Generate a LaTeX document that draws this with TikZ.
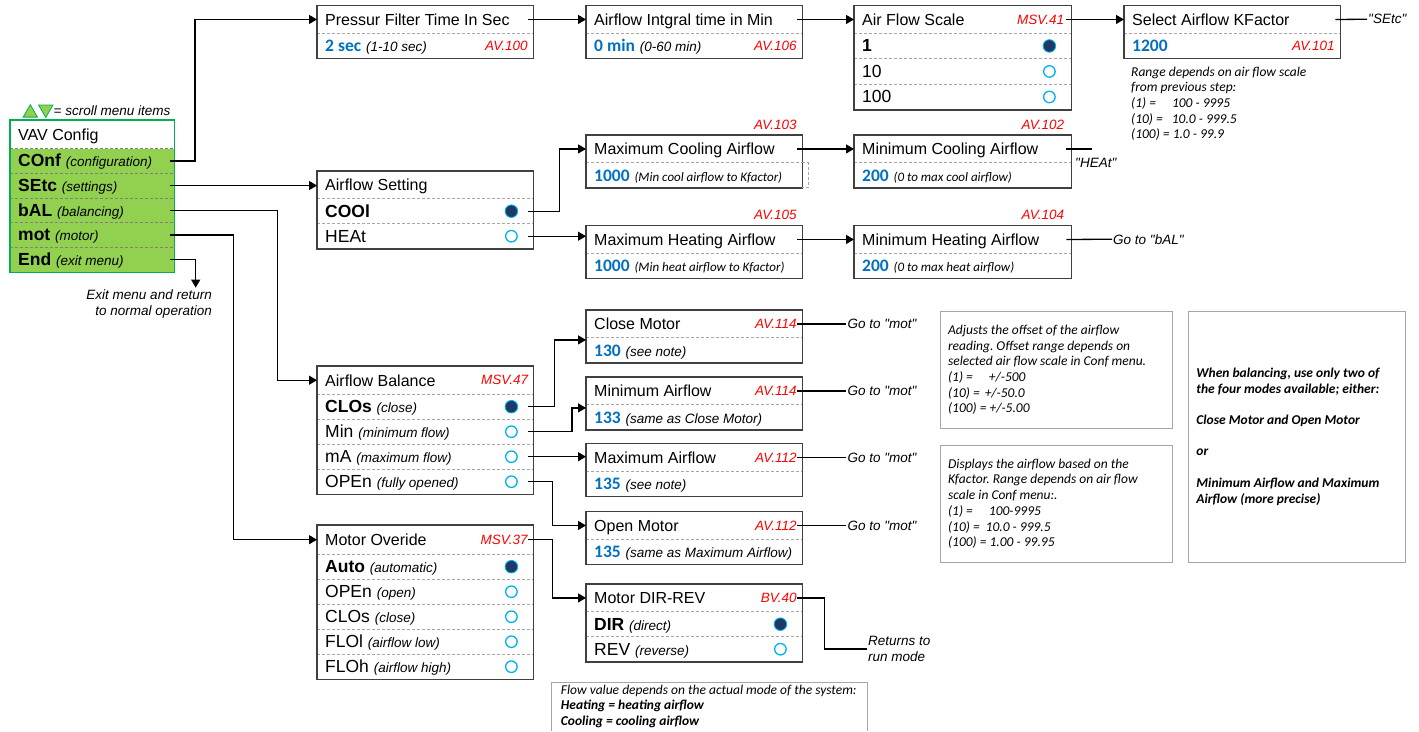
\documentclass[tikz,border=0pt]{standalone}
\usepackage{fontspec}
\setmainfont{Liberation Sans}
\newfontfamily\calfont{Carlito}
\usetikzlibrary{arrows.meta,shapes.geometric}
\frenchspacing

\definecolor{boxgray}{HTML}{404040}
\definecolor{divgray}{HTML}{A6A6A6}
\definecolor{vavgreen}{HTML}{92D050}
\definecolor{vavedge}{HTML}{00B050}
\definecolor{valblue}{HTML}{0070C0}
\definecolor{avred}{HTML}{FF0000}
\definecolor{radioring}{HTML}{00B0F0}
\definecolor{radiofill}{HTML}{1F3864}
\definecolor{notegray}{HTML}{A6A6A6}

\newcommand{\paren}[1]{{\fontsize{13.5}{16}\selectfont\itshape #1}}
\newcommand{\calparen}[1]{{\calfont\itshape\fontsize{13}{16}\selectfont #1}}
\newcommand{\val}[1]{{\calfont\bfseries\fontsize{17.5}{20}\selectfont\color{valblue}#1}}
\newcommand{\qq}[1]{\textquotedbl#1\textquotedbl}

\tikzset{
  cell/.style={anchor=north west, text width=#1, inner xsep=8pt, inner ysep=0pt,
    align=flush left, text height=14.5pt, text depth=2.5pt},
  cell/.default=200pt,
  hd/.style={cell=#1, minimum height=27.5pt, font=\fontsize{16}{19}\selectfont},
  hd/.default=200pt,
  opt/.style={cell=#1, minimum height=25pt, font=\fontsize{17.5}{20}\selectfont},
  opt/.default=200pt,
  boxline/.style={draw=boxgray, line width=1.3pt},
  divline/.style={draw=divgray, line width=0.9pt, dash pattern=on 3pt off 2pt},
  vavdiv/.style={draw=gray, line width=0.9pt, dash pattern=on 3pt off 2pt},
  radon/.style={circle, draw=radioring, fill=radiofill, line width=0.9pt, minimum size=12.5pt, inner sep=0pt},
  radoff/.style={circle, draw=radioring, fill=white, line width=1.3pt, minimum size=11.5pt, inner sep=0pt},
  avlab/.style={font=\fontsize{13.5}{16}\selectfont\itshape, text=avred, inner sep=0pt, anchor=east},
  golab/.style={font=\fontsize{13.5}{16.3}\selectfont\itshape, inner sep=1pt, anchor=west},
  link/.style={draw=black, line width=1.3pt, shorten <=-5pt, -{Triangle[length=8pt,width=9pt]}},
  golink/.style={draw=black, line width=1.3pt, shorten <=-5pt},
  notebox/.style={draw=notegray, line width=0.8pt, anchor=north west, inner xsep=8pt,
    align=flush left, font=\calfont\itshape\fontsize{13.5}{15.7}\selectfont},
  notetext/.style={anchor=north west, inner sep=0pt, align=flush left,
    font=\calfont\itshape\fontsize{13.5}{15.7}\selectfont},
  tri/.style={regular polygon, regular polygon sides=3, minimum size=16.5pt, inner sep=0pt,
    fill=vavgreen, draw=vavedge, line width=0.8pt}
}

\begin{document}
\begin{tikzpicture}[x=1pt, y=-1pt]
    \path[use as bounding box, fill=white] (0,0) rectangle (1419,731);

    % VAV menu
    \node[tri] (scroll-up) at (30.3,113) {};
    \node[tri, shape border rotate=180] (scroll-down) at (45.8,109.2) {};
    \node[golab] (scroll-lab) at (52.5,110.8) {= scroll menu items};
    \node[hd=148.3pt, fill=white, minimum height=28.3pt] (vav) at (10,120) {VAV Config};
    \node[opt=148.3pt, fill=vavgreen, minimum height=24.7pt] (conf) at (10,148.3) {\textbf{COnf} \paren{(configuration)}};
    \node[opt=148.3pt, fill=vavgreen, minimum height=24.7pt] (setc) at (10,173) {\textbf{SEtc} \paren{(settings)}};
    \node[opt=148.3pt, fill=vavgreen, minimum height=24.7pt] (bal) at (10,197.7) {\textbf{bAL} \paren{(balancing)}};
    \node[opt=148.3pt, fill=vavgreen, minimum height=24.7pt] (mot) at (10,222.4) {\textbf{mot} \paren{(motor)}};
    \node[opt=148.3pt, fill=vavgreen, minimum height=24.7pt] (endm) at (10,247.1) {\textbf{End} \paren{(exit menu)}};
    \foreach \r in {vav,conf,setc,bal,mot}
        \draw[vavdiv] (\r.south west) -- (\r.south east);
    \draw[draw=vavedge, line width=1.3pt] (vav.north west) rectangle (endm.south east);
    \node[golab, anchor=east, align=flush right] (exit-lab) at (213,304) {Exit menu and return\\to normal operation};

    % Conf branch
    \node[hd] (pf-h) at (317,5.5) {Pressur Filter Time In Sec};
    \node[opt] (pf-v) at (317,33) {\val{2 sec} \paren{(1-10 sec)}};
    \node[avlab] (pf-av) at ([xshift=-5.5pt]pf-v.east) {AV.100};

    \node[hd] (ai-h) at (586,5.5) {Airflow Intgral time in Min};
    \node[opt] (ai-v) at (586,33) {\val{0 min} \paren{(0-60 min)}};
    \node[avlab] (ai-av) at ([xshift=-5.5pt]ai-v.east) {AV.106};

    \node[hd=201pt] (fs-h) at (854,5.5) {Air Flow Scale};
    \node[opt=201pt, minimum height=25.5pt] (fs-1) at (854,33) {\textbf{1}};
    \node[opt=201pt, minimum height=25.5pt] (fs-2) at (854,58.5) {10};
    \node[opt=201pt, minimum height=25.5pt] (fs-3) at (854,84) {100};
    \node[avlab] (fs-av) at ([xshift=-7pt]fs-h.east) {MSV.41};

    \node[hd] (kf-h) at (1124,5.5) {Select Airflow KFactor};
    \node[opt] (kf-v) at (1124,33) {\val{1200}};
    \node[avlab] (kf-av) at ([xshift=-5.5pt]kf-v.east) {AV.101};
    \node[golab] (kf-lab) at (1367,19.25) {\qq{SEtc}};
    \node[notetext] (kf-range) at (1131,66.5) {Range depends on air flow scale\\from previous step:\\(1) =\hspace{16pt}100 - 9995\\(10) =\hspace{9pt}10.0 - 999.5\\(100) = 1.0 - 99.9};

    % SEtc branch
    \node[hd] (as-h) at (317,171) {Airflow Setting};
    \node[opt] (as-1) at (317,198.5) {\textbf{COOl}};
    \node[opt] (as-2) at (317,223.5) {HEAt};

    \node[hd] (mc-h) at (586,135) {Maximum Cooling Airflow};
    \node[opt] (mc-v) at (586,162.5) {\val{1000} \calparen{(Min cool airflow to Kfactor)}};
    \node[avlab] (mc-av) at ([xshift=-5.5pt,yshift=10pt]mc-h.north east) {AV.103};
    \node[hd=201pt] (nc-h) at (854,135) {Minimum Cooling Airflow};
    \node[opt=201pt] (nc-v) at (854,162.5) {\val{200} \calparen{(0 to max cool airflow)}};
    \node[avlab] (nc-av) at ([xshift=-7pt,yshift=10pt]nc-h.north east) {AV.102};
    \node[golab] (heat-lab) at (1074,163) {\qq{HEAt}};
    \coordinate (heat-end) at ([xshift=21pt]nc-h.east);

    \node[hd] (mh-h) at (586,225.5) {Maximum Heating Airflow};
    \node[opt] (mh-v) at (586,253) {\val{1000} \calparen{(Min heat airflow to Kfactor)}};
    \node[avlab] (mh-av) at ([xshift=-5.5pt,yshift=10.5pt]mh-h.north east) {AV.105};
    \node[hd=201pt] (nh-h) at (854,225.5) {Minimum Heating Airflow};
    \node[opt=201pt] (nh-v) at (854,253) {\val{200} \calparen{(0 to max heat airflow)}};
    \node[avlab] (nh-av) at ([xshift=-7pt,yshift=10.5pt]nh-h.north east) {AV.104};
    \node[golab] (bal-lab) at (1112,239.25) {Go to \qq{bAL}};

    % bAL branch
    \node[hd, minimum height=28pt] (ab-h) at (317,366) {Airflow Balance};
    \node[avlab] (ab-av) at ([xshift=-5pt]ab-h.east) {MSV.47};
    \node[opt] (ab-1) at (317,394) {\textbf{CLOs} \paren{(close)}};
    \node[opt] (ab-2) at (317,419) {Min \paren{(minimum flow)}};
    \node[opt] (ab-3) at (317,444) {mA \paren{(maximum flow)}};
    \node[opt] (ab-4) at (317,469) {OPEn \paren{(fully opened)}};

    \node[hd] (cm-h) at (586,310) {Close Motor};
    \node[opt] (cm-v) at (586,337.5) {\val{130} \paren{(see note)}};
    \node[avlab] (cm-av) at ([xshift=-5.5pt]cm-h.east) {AV.114};
    \node[hd] (ma-h) at (586,377) {Minimum Airflow};
    \node[opt] (ma-v) at (586,404.5) {\val{133} \paren{(same as Close Motor)}};
    \node[avlab] (ma-av) at ([xshift=-5.5pt]ma-h.east) {AV.114};
    \node[hd] (xa-h) at (586,443.5) {Maximum Airflow};
    \node[opt] (xa-v) at (586,471) {\val{135} \paren{(see note)}};
    \node[avlab] (xa-av) at ([xshift=-5.5pt]xa-h.east) {AV.112};
    \node[hd] (om-h) at (586,511.5) {Open Motor};
    \node[opt] (om-v) at (586,539) {\val{135} \paren{(same as Maximum Airflow)}};
    \node[avlab] (om-av) at ([xshift=-5.5pt]om-h.east) {AV.112};
    \foreach \b in {cm,ma,xa,om}
        \node[golab] (\b-go) at ([xshift=44pt]\b-h.east) {Go to \qq{mot}};

    % mot branch
    \node[hd, minimum height=29pt] (mo-h) at (317,525) {Motor Overide};
    \node[avlab] (mo-av) at ([xshift=-5.5pt]mo-h.east) {MSV.37};
    \node[opt] (mo-1) at (317,554) {\textbf{Auto} \paren{(automatic)}};
    \node[opt] (mo-2) at (317,579) {OPEn \paren{(open)}};
    \node[opt] (mo-3) at (317,604) {CLOs \paren{(close)}};
    \node[opt] (mo-4) at (317,629) {FLOl \paren{(airflow low)}};
    \node[opt] (mo-5) at (317,654) {FLOh \paren{(airflow high)}};

    \node[hd] (dr-h) at (586,584) {Motor DIR-REV};
    \node[avlab] (dr-av) at ([xshift=-5.5pt]dr-h.east) {BV.40};
    \node[opt] (dr-1) at (586,611.5) {\textbf{DIR} \paren{(direct)}};
    \node[opt] (dr-2) at (586,636.5) {REV \paren{(reverse)}};
    \node[golab, align=flush left] (run) at (867,649) {Returns to\\run mode};

    % Radio buttons
    \foreach \r in {fs-1,as-1,ab-1,mo-1,dr-1}
        \node[radon] (\r-rb) at ([xshift=-22pt]\r.east) {};
    \foreach \r in {fs-2,fs-3,as-2,ab-2,ab-3,ab-4,mo-2,mo-3,mo-4,mo-5,dr-2}
        \node[radoff] (\r-rb) at ([xshift=-22pt]\r.east) {};

    % Box frames
    \foreach \b in {pf,ai,kf,mc,nc,mh,nh,cm,ma,xa,om} {
        \draw[divline] (\b-h.south west) -- (\b-h.south east);
        \draw[boxline] (\b-h.north west) rectangle (\b-v.south east);
    }
    \draw[divline] (mc-h.south east) -- ++(6,0) |- (mc-v.south east);
    \foreach \r in {fs-h,fs-1,fs-2} \draw[divline] (\r.south west) -- (\r.south east);
    \draw[boxline] (fs-h.north west) rectangle (fs-3.south east);
    \foreach \r in {as-h,as-1} \draw[divline] (\r.south west) -- (\r.south east);
    \draw[boxline] (as-h.north west) rectangle (as-2.south east);
    \foreach \r in {ab-h,ab-1,ab-2,ab-3} \draw[divline] (\r.south west) -- (\r.south east);
    \draw[boxline] (ab-h.north west) rectangle (ab-4.south east);
    \foreach \r in {mo-h,mo-1,mo-2,mo-3,mo-4} \draw[divline] (\r.south west) -- (\r.south east);
    \draw[boxline] (mo-h.north west) rectangle (mo-5.south east);
    \foreach \r in {dr-h,dr-1} \draw[divline] (\r.south west) -- (\r.south east);
    \draw[boxline] (dr-h.north west) rectangle (dr-2.south east);

    % Notes
    \node[notebox, minimum height=117.6pt, text width=216.7pt] (off-note) at (939.7,310.7)
        {Adjusts the offset of the airflow\\reading. Offset range depends on\\selected air flow scale in Conf menu.\\(1) =\hspace{16pt}+/-500\\(10) =\hspace{5pt}+/-50.0\\(100) = +/-5.00};
    \node[notebox, minimum height=116.7pt, text width=216.7pt] (kf-note) at (939.7,445)
        {Displays the airflow based on the\\Kfactor. Range depends on air flow\\scale in Conf menu:.\\(1) =\hspace{16pt}100-9995\\(10) =\hspace{6pt}10.0 - 999.5\\(100) = 1.00 - 99.95};
    \node[notebox, minimum height=251pt, text width=201pt, font=\calfont\bfseries\itshape\fontsize{13.5}{15.7}\selectfont] (bal-note) at (1188,310.7)
        {When balancing, use only two of\\the four modes available; either:\\[15.7pt]Close Motor and Open Motor\\[15.7pt]or\\[15.7pt]Minimum Airflow and Maximum\\Airflow (more precise)};
    \node[notetext, inner xsep=9pt, inner ysep=2.5pt, text width=297pt, font=\calfont\itshape\fontsize{13.5}{15.5}\selectfont] (flow) at (551.7,682)
        {Flow value depends on the actual mode of the system:\\\textbf{Heating = heating airflow}\\\textbf{Cooling = cooling airflow}};
    \coordinate (pagebot) at (0,731);
    \draw[draw=notegray, line width=0.8pt] (flow.north west |- pagebot) -- (flow.north west) -- (flow.north east) -- (flow.north east |- pagebot);

    % Edges
    \draw[link] (conf.east) -- ++(20.3,0) |- (pf-h.west);
    \draw[link] (setc.east) -- (setc.east -| as-h.west);
    \draw[link] (bal.east) -- ++(103,0) |- (ab-h.west);
    \draw[link] (mot.east) -- ++(58.5,0) |- (mo-h.west);
    \coordinate (exit-end) at ([xshift=21pt,yshift=-28pt]endm.east);
    \draw[link] (endm.east) -| (exit-end);

    \draw[link] (pf-h.east) -- (ai-h.west);
    \draw[link] (ai-h.east) -- (fs-h.west);
    \draw[link] (fs-h.east) -- (kf-h.west);
    \draw[golink] (kf-h.east) -- (kf-lab.west);

    \draw[link] (as-1.east) -- ++(26,0) |- (mc-h.west);
    \draw[link] (as-2.east) -- (as-2.east -| mh-h.west);
    \draw[link] (mc-h.east) -- (nc-h.west);
    \draw[link] (mh-h.east) -- (nh-h.west);
    \draw[golink] (nc-h.east) -- (heat-end);
    \draw[golink] (nh-h.east) -- (bal-lab.west);

    \draw[link] (ab-1.east) -- ++(21,0) |- ([yshift=-2pt]cm-h.south west);
    \draw[link] (ab-2.east) -- ++(38.5,0) |- ([yshift=-3pt]ma-h.south west);
    \draw[link] (ab-3.east) -- (ab-3.east -| xa-h.west);
    \draw[link] (ab-4.east) -- ++(19,0) |- (om-h.west);
    \foreach \b in {cm,ma,xa,om}
        \draw[golink] (\b-h.east) -- (\b-go.west);

    \draw[link] (mo-h.east) -- ++(19,0) |- (dr-h.west);
    \draw[golink] (dr-h.east) -- ++(22,0) |- (run.west);
\end{tikzpicture}
\end{document}
